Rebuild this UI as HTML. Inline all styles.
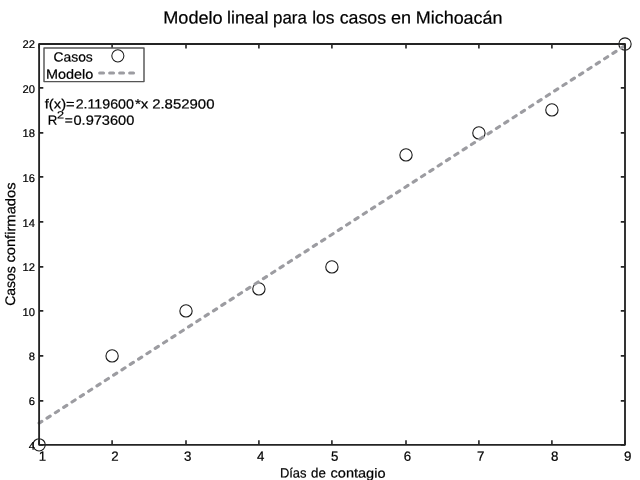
<!DOCTYPE html>
<html lang="es"><head><meta charset="utf-8"><title>Modelo lineal para los casos en Michoacán</title>
<style>html,body{margin:0;padding:0;background:#fff;overflow:hidden}svg{display:block}text{font-family:"Liberation Sans",sans-serif;fill:#000;stroke:#000;stroke-width:.22px}</style>
</head><body>
<svg width="640" height="480" viewBox="0 0 640 480">
<rect width="640" height="480" fill="#fff"/>
<g id="title"><text transform="translate(163.23 23.6) rotate(.05)" font-size="17.5" textLength="59.47" lengthAdjust="spacingAndGlyphs">Modelo</text><text transform="translate(227.08 23.6) rotate(.05)" font-size="17.5" textLength="41.3" lengthAdjust="spacingAndGlyphs">lineal</text><text transform="translate(272.99 23.6) rotate(.05)" font-size="17.5" textLength="33.85" lengthAdjust="spacingAndGlyphs">para</text><text transform="translate(312.21 23.6) rotate(.05)" font-size="17.5" textLength="22.15" lengthAdjust="spacingAndGlyphs">los</text><text transform="translate(339.68 23.6) rotate(.05)" font-size="17.5" textLength="46.47" lengthAdjust="spacingAndGlyphs">casos</text><text transform="translate(391.0 23.6) rotate(.05)" font-size="17.5" textLength="20.1" lengthAdjust="spacingAndGlyphs">en</text><text transform="translate(415.76 23.6) rotate(.05)" font-size="17.5" textLength="86.77" lengthAdjust="spacingAndGlyphs">Michoacán</text></g>
<circle cx="39.10" cy="444.85" r="6.15" fill="none" stroke="#1a1a1a" stroke-width="1.1"/>
<circle cx="112.10" cy="355.90" r="6.15" fill="none" stroke="#1a1a1a" stroke-width="1.1"/>
<circle cx="186.00" cy="310.90" r="6.15" fill="none" stroke="#1a1a1a" stroke-width="1.1"/>
<circle cx="258.90" cy="288.90" r="6.15" fill="none" stroke="#1a1a1a" stroke-width="1.1"/>
<circle cx="331.90" cy="266.90" r="6.15" fill="none" stroke="#1a1a1a" stroke-width="1.1"/>
<circle cx="406.00" cy="154.90" r="6.15" fill="none" stroke="#1a1a1a" stroke-width="1.1"/>
<circle cx="478.90" cy="132.90" r="6.15" fill="none" stroke="#1a1a1a" stroke-width="1.1"/>
<circle cx="551.90" cy="109.90" r="6.15" fill="none" stroke="#1a1a1a" stroke-width="1.1"/>
<circle cx="625.00" cy="44.00" r="6.15" fill="none" stroke="#1a1a1a" stroke-width="1.1"/>
<line x1="39.10" y1="423.19" x2="625.00" y2="45.57" stroke="#9c9ca1" stroke-width="3.15" stroke-dasharray="3.7 6.2" stroke-dashoffset="0.45" stroke-linecap="round"/>
<rect x="39.1" y="44.0" width="585.9" height="400.85" fill="none" stroke="#242424" stroke-width="1.85" stroke-linejoin="round"/>
<path d="M39.10 444.85v-4.6M39.10 44.0v4.6M112.10 444.85v-4.6M112.10 44.0v4.6M186.00 444.85v-4.6M186.00 44.0v4.6M258.90 444.85v-4.6M258.90 44.0v4.6M331.90 444.85v-4.6M331.90 44.0v4.6M406.00 444.85v-4.6M406.00 44.0v4.6M478.90 444.85v-4.6M478.90 44.0v4.6M551.90 444.85v-4.6M551.90 44.0v4.6M625.00 444.85v-4.6M625.00 44.0v4.6M39.1 444.85h4.2M625.0 444.85h-4.2M39.1 400.90h4.2M625.0 400.90h-4.2M39.1 355.90h4.2M625.0 355.90h-4.2M39.1 310.90h4.2M625.0 310.90h-4.2M39.1 266.90h4.2M625.0 266.90h-4.2M39.1 221.90h4.2M625.0 221.90h-4.2M39.1 176.90h4.2M625.0 176.90h-4.2M39.1 132.90h4.2M625.0 132.90h-4.2M39.1 87.90h4.2M625.0 87.90h-4.2M39.1 44.00h4.2M625.0 44.00h-4.2" stroke="#242424" stroke-width="1.6" fill="none"/>
<text transform="translate(42.40 460.75) rotate(.05)" font-size="13.3" text-anchor="middle">1</text>
<text transform="translate(114.98 460.75) rotate(.05)" font-size="13.3" text-anchor="middle">2</text>
<text transform="translate(187.60 460.75) rotate(.05)" font-size="13.3" text-anchor="middle">3</text>
<text transform="translate(260.72 460.75) rotate(.05)" font-size="13.3" text-anchor="middle">4</text>
<text transform="translate(334.66 460.75) rotate(.05)" font-size="13.3" text-anchor="middle">5</text>
<text transform="translate(407.54 460.75) rotate(.05)" font-size="13.3" text-anchor="middle">6</text>
<text transform="translate(480.61 460.75) rotate(.05)" font-size="13.3" text-anchor="middle">7</text>
<text transform="translate(554.62 460.75) rotate(.05)" font-size="13.3" text-anchor="middle">8</text>
<text transform="translate(627.82 460.75) rotate(.05)" font-size="13.3" text-anchor="middle">9</text>
<text transform="translate(35.0 449.70) rotate(.05)" font-size="11.2" text-anchor="end">4</text>
<text transform="translate(35.0 405.10) rotate(.05)" font-size="11.2" text-anchor="end">6</text>
<text transform="translate(35.0 360.15) rotate(.05)" font-size="11.2" text-anchor="end">8</text>
<text transform="translate(35.0 316.00) rotate(.05)" font-size="11.2" text-anchor="end">10</text>
<text transform="translate(35.0 270.90) rotate(.05)" font-size="11.2" text-anchor="end">12</text>
<text transform="translate(35.0 226.90) rotate(.05)" font-size="11.2" text-anchor="end">14</text>
<text transform="translate(35.0 182.00) rotate(.05)" font-size="11.2" text-anchor="end">16</text>
<text transform="translate(35.0 137.10) rotate(.05)" font-size="11.2" text-anchor="end">18</text>
<text transform="translate(35.0 92.90) rotate(.05)" font-size="11.2" text-anchor="end">20</text>
<text transform="translate(35.0 47.90) rotate(.05)" font-size="11.2" text-anchor="end">22</text>
<g id="xlabel"><text transform="translate(279.9 477.6) rotate(.05)" font-size="13.3" textLength="26.64" lengthAdjust="spacingAndGlyphs">Días</text><text transform="translate(311.1 477.6) rotate(.05)" font-size="13.3" textLength="14.78" lengthAdjust="spacingAndGlyphs">de</text><text transform="translate(330.55 477.6) rotate(.05)" font-size="13.3" textLength="54.96" lengthAdjust="spacingAndGlyphs">contagio</text></g>
<g id="ylabel"><text transform="translate(15.1 305.77) rotate(-89.95)" font-size="13.9" textLength="39.58" lengthAdjust="spacingAndGlyphs">Casos</text><text transform="translate(15.1 262.61) rotate(-89.95)" font-size="13.9" textLength="80.16" lengthAdjust="spacingAndGlyphs">confirmados</text></g>
<rect x="44" y="48" width="100" height="33.6" fill="#fff" stroke="#555" stroke-width="1.45" stroke-linejoin="round"/>
<text transform="translate(53.52 61.5) rotate(.05)" font-size="13.3" textLength="39.29" lengthAdjust="spacingAndGlyphs">Casos</text>
<text transform="translate(45.88 78.8) rotate(.05)" font-size="13.3" textLength="47.36" lengthAdjust="spacingAndGlyphs">Modelo</text>
<circle cx="117.85" cy="55.85" r="6.05" fill="none" stroke="#1a1a1a" stroke-width="1.05"/>
<line x1="99.7" y1="72.95" x2="133.6" y2="72.95" stroke="#9c9ca1" stroke-width="3.15" stroke-dasharray="3.8 6.2" stroke-linecap="round"/>
<g id="eq"><text transform="translate(44.78 108.4) rotate(.05)" font-size="13.3" textLength="29.88" lengthAdjust="spacingAndGlyphs">f(x)=</text><text transform="translate(75.63 108.4) rotate(.05)" font-size="13.3" textLength="58.3" lengthAdjust="spacingAndGlyphs">2.119600</text><text transform="translate(134.93 108.4) rotate(.05)" font-size="13.3" textLength="13.41" lengthAdjust="spacingAndGlyphs">*x</text><text transform="translate(152.17 108.4) rotate(.05)" font-size="13.3" textLength="62.27" lengthAdjust="spacingAndGlyphs">2.852900</text></g>
<g id="r2"><text transform="translate(47.69 124.8) rotate(.05)" font-size="13.3" textLength="9.56" lengthAdjust="spacingAndGlyphs">R</text><text transform="translate(57.02 118.6) rotate(.05)" font-size="10.5" textLength="7.02" lengthAdjust="spacingAndGlyphs">2</text><text transform="translate(64.7 124.8) rotate(.05)" font-size="13.3" textLength="8.03" lengthAdjust="spacingAndGlyphs">=</text><text transform="translate(73.48 124.8) rotate(.05)" font-size="13.3" textLength="60.76" lengthAdjust="spacingAndGlyphs">0.973600</text></g>
</svg></body></html>
